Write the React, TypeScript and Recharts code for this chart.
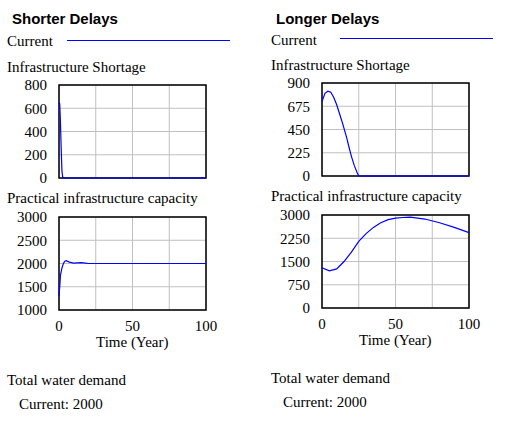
import { LineChart, Line, XAxis, YAxis, CartesianGrid, ReferenceArea } from 'recharts'

const shortTime = [0, 0.5, 1, 1.5, 2, 2.5, 3, 5, 10, 20, 50, 100]
const shortShortage = [650, 640, 470, 250, 60, 10, 0, 0, 0, 0, 0, 0]
const shortCapTime = [0, 0.5, 1, 2, 3, 4, 5, 7, 10, 15, 18, 20, 50, 100]
const shortCapacity = [1300, 1500, 1750, 1900, 2000, 2050, 2060, 2030, 2010, 2020, 2010, 2000, 2000, 2000]

const longTime = [0, 2, 4, 6, 8, 10, 12, 14, 16, 17, 18, 20, 22, 24, 25, 50, 100]
const longShortage = [720, 800, 820, 810, 760, 690, 600, 510, 410, 360, 300, 190, 100, 30, 0, 0, 0]
const longCapTime = [0, 5, 10, 15, 20, 25, 30, 35, 40, 45, 50, 55, 60, 70, 80, 90, 100]
const longCapacity = [1300, 1200, 1260, 1500, 1800, 2150, 2400, 2600, 2750, 2850, 2900, 2920, 2930, 2870, 2750, 2600, 2430]

const xTicks = [0, 25, 50, 75, 100]
const yShortLeft = [0, 200, 400, 600, 800]
const yCapLeft = [1000, 1500, 2000, 2500, 3000]
const yShortRight = [0, 225, 450, 675, 900]
const yCapRight = [0, 750, 1500, 2250, 3000]

const zip = (t: number[], v: number[]) => t.map((x, i) => ({ t: x, v: v[i] }))

const serif = '"Liberation Serif", "Times New Roman", serif'
const sans = '"Liberation Sans", Arial, sans-serif'

function Panel({ left, top, data, yTicks, showX }: any) {
  const plotW = 147
  const plotH = 93
  const yw = 55
  const bottom = showX ? 30 : 12
  return (
    <div style={{ position: 'absolute', left: left - yw, top: top - 10 }}>
      <LineChart width={yw + plotW + 14} height={10 + plotH + bottom} data={data}
        margin={{ top: 10, right: 14, left: 0, bottom: showX ? 0 : 12 }}>
        <CartesianGrid stroke="#c0c0c0" vertical horizontal />
        <XAxis dataKey="t" type="number" domain={[0, 100]} ticks={xTicks} hide={!showX}
          height={30} tickLine={false} axisLine={false} tickMargin={4}
          tickFormatter={(v: number) => (v % 50 === 0 ? String(v) : '')}
          tick={{ fill: '#000', fontSize: 15, fontFamily: serif }} />
        <YAxis type="number" domain={[yTicks[0], yTicks[4]]} ticks={yTicks} width={yw}
          tickLine={false} axisLine={false} tickMargin={6} interval={0}
          tick={{ fill: '#000', fontSize: 15, fontFamily: serif }} />
        <ReferenceArea x1={0} x2={100} y1={yTicks[0]} y2={yTicks[4]} stroke="#000" strokeWidth={1.5} fillOpacity={0} />
        <Line dataKey="v" type="linear" stroke="#0000ff" dot={false} strokeWidth={1.2} isAnimationActive={false} />
      </LineChart>
    </div>
  )
}

const T = ({ x, y, children, font = serif, size = 15, bold = false }: any) => (
  <div style={{ position: 'absolute', left: x, top: y, fontFamily: font, fontSize: size, fontWeight: bold ? 'bold' : 'normal', whiteSpace: 'nowrap', lineHeight: '16px' }}>{children}</div>
)

export default function App() {
  return (
    <div style={{ position: 'fixed', left: 0, top: 0, width: 506, height: 423, background: '#fff' }}>
      <T x={12} y={11} font={sans} size={15} bold>Shorter Delays</T>
      <T x={276} y={11} font={sans} size={15} bold>Longer Delays</T>
      <T x={7} y={33}>Current</T>
      <div style={{ position: 'absolute', left: 67, top: 40, width: 163, height: 1, background: '#0000ff' }} />
      <T x={271} y={32}>Current</T>
      <div style={{ position: 'absolute', left: 340, top: 38, width: 153, height: 1, background: '#0000ff' }} />
      <T x={7} y={59}>Infrastructure Shortage</T>
      <T x={271} y={57}>Infrastructure Shortage</T>
      <T x={7} y={190}>Practical infrastructure capacity</T>
      <T x={271} y={188}>Practical infrastructure capacity</T>
      <Panel left={59} top={85} data={zip(shortTime, shortShortage)} yTicks={yShortLeft} showX={false} />
      <Panel left={59} top={217} data={zip(shortCapTime, shortCapacity)} yTicks={yCapLeft} showX />
      <Panel left={322} top={83} data={zip(longTime, longShortage)} yTicks={yShortRight} showX={false} />
      <Panel left={322} top={215} data={zip(longCapTime, longCapacity)} yTicks={yCapRight} showX />
      <T x={96} y={334}>Time (Year)</T>
      <T x={359} y={332}>Time (Year)</T>
      <T x={7} y={372}>Total water demand</T>
      <T x={271} y={370}>Total water demand</T>
      <T x={19} y={396}>Current: 2000</T>
      <T x={283} y={394}>Current: 2000</T>
    </div>
  )
}
